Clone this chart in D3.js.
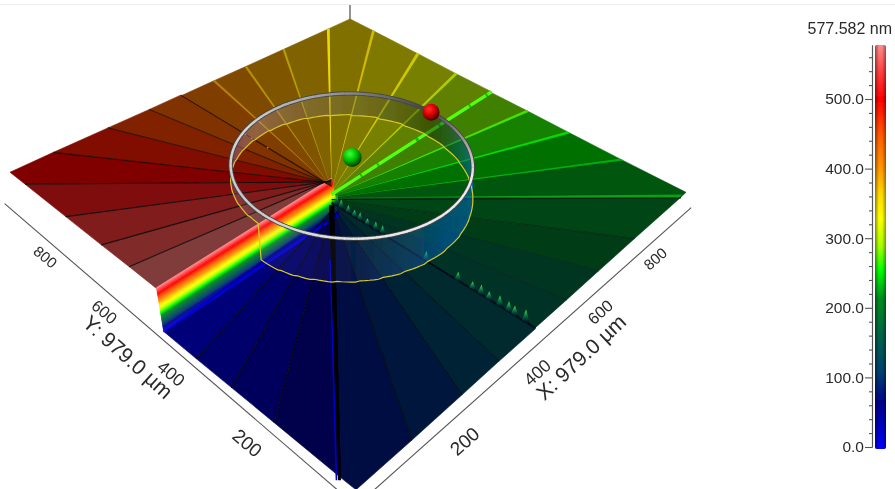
<!DOCTYPE html>
<html>
<head>
<meta charset="utf-8">
<style>
	html, body { margin: 0; padding: 0; background: #fff; overflow: hidden; }
	text { font-family: "Liberation Sans", Arial, sans-serif; fill: #2a2a2a; }
</style>
</head>
<body>
<div class="content"></div>
<script src="https://cdn.jsdelivr.net/npm/d3@7"></script>
<script>
const w = 895;
const h = 489;

// where each step line meets the edge of the plate, in um
const rayX = [0, 0, 0, 0, 0, 125, 249, 348, 452, 548, 653, 779, 958, 979, 979, 979, 979, 979, 979, 979, 900, 746, 624, 527, 431, 343, 234, 100, 0, 0, 0, 0, 0];
const rayY = [470, 379, 287, 182, 35, 0, 0, 0, 0, 0, 0, 0, 0, 156, 293, 407, 512, 620, 743, 895, 979, 979, 979, 979, 979, 979, 979, 979, 922, 777, 659, 572, 491];
// height of the step between ray i and ray i + 1, in nm
const stepHeights = [8, 24, 40, 59, 79, 99, 118, 136, 154, 172, 189, 208, 226, 244, 263, 281, 300, 322, 343, 360, 375, 391, 407, 424, 442, 460, 481, 501, 517, 532, 548, 566];
// rays where the surface really breaks
const breakRays = [8, 16, 24];

const spikeY = [485, 473, 453, 436, 421, 401, 379, 361, 250, 173, 139, 119, 101, 77, 57, 44, 20];
const spikeZ = [350, 310, 290, 270, 285, 260, 290, 300, 310, 290, 280, 310, 280, 320, 310, 300, 345];

const dotX = [435, 436, 437];
const dotY = [760, 740, 690];
const dotZ = [434, 434, 434];

const xTicks = [200, 400, 600, 800];
const yTicks = [200, 400, 600, 800];

const legendMajor = [0, 100, 200, 300, 400, 500];
const legendMinor = [20, 40, 60, 80, 120, 140, 160, 180, 220, 240, 260, 280, 320, 340, 360, 380, 420, 440, 460, 480, 520, 540, 560];
const legendMax = 577.582;

const colorValues = [0, 30, 65, 110, 170, 215, 255, 290, 330, 365, 400, 450, 500, 535, 577.582];
const colorNames = ['#0000ff', '#0000c8', '#00008c', '#004070', '#006a40', '#008c20', '#00ff00', '#a8ff00', '#ffff00', '#ffd800', '#ff9800', '#ff5800', '#ff0000', '#ff3838', '#ff8c8c'];

const plateSize = 979;
const spiralX = 441;
const spiralY = 500;
const rampWidth = 21;
const ringX = 490;
const ringY = 490;
const ringR = 247;
const ringZ = 770;

const colorScale = d3.scaleLinear().domain(colorValues).range(colorNames);
const shade = (z) => {
	const c = d3.rgb(colorScale(z));
	return d3.rgb(c.r * 0.5, c.g * 0.5, c.b * 0.5).formatRgb();
};

const xScale = d3.scaleLinear().domain([0, plateSize]).range([0, 1]);
const yScale = d3.scaleLinear().domain([0, plateSize]).range([0, 1]);
const zScale = d3.scaleLinear().domain([0, legendMax]).range([0, 45]);

// plate corners on screen: (0,0), (979,0), (979,979), (0,979)
const quad = [[356, 496], [686, 205], [350, 35], [10, 201]];
const homography = (() => {
	const [p0, p1, p2, p3] = quad;
	const dx1 = p1[0] - p2[0], dx2 = p3[0] - p2[0], sx = p0[0] - p1[0] + p2[0] - p3[0];
	const dy1 = p1[1] - p2[1], dy2 = p3[1] - p2[1], sy = p0[1] - p1[1] + p2[1] - p3[1];
	const den = dx1 * dy2 - dx2 * dy1;
	const g = (sx * dy2 - dx2 * sy) / den;
	const k = (dx1 * sy - sx * dy1) / den;
	return {
		a: p1[0] - p0[0] + g * p1[0], b: p3[0] - p0[0] + k * p3[0], c: p0[0],
		d: p1[1] - p0[1] + g * p1[1], e: p3[1] - p0[1] + k * p3[1], f: p0[1],
		g: g, k: k
	};
})();

const project = (x, y, z) => {
	const u = xScale(x);
	const v = yScale(y);
	const m = homography;
	const depth = m.g * u + m.k * v + 1;
	return [(m.a * u + m.b * v + m.c) / depth, (m.d * u + m.e * v + m.f) / depth - zScale(z) / depth];
};

const line = d3.line();
const closed = d3.line().curve(d3.curveLinearClosed);

const content = d3.select('.content');

const svg = content.append('svg')
	.attr('width', w)
	.attr('height', h)
	.style('display', 'block');

const defs = svg.append('defs');

defs.append('filter').attr('id', 'soft')
	.attr('x', '-5%').attr('y', '-5%').attr('width', '110%').attr('height', '110%')
	.append('feGaussianBlur').attr('stdDeviation', 0.45);

const spikeGrad = defs.append('linearGradient').attr('id', 'spike')
	.attr('x1', 0).attr('y1', 1).attr('x2', 0).attr('y2', 0);
spikeGrad.append('stop').attr('offset', '15%').attr('stop-color', '#00101c');
spikeGrad.append('stop').attr('offset', '55%').attr('stop-color', '#086048');
spikeGrad.append('stop').attr('offset', '100%').attr('stop-color', '#40f040');

svg.append('rect')
	.attr('x', 0).attr('y', 4).attr('width', w).attr('height', 1)
	.attr('fill', '#eeeeee');

const chart = svg.append('g').attr('filter', 'url(#soft)');

// vertical axis stub behind the back corner
chart.append('path')
	.attr('d', line([[350, 5], [350, 20]]))
	.attr('stroke', '#666')
	.attr('stroke-width', 1.4)
	.attr('fill', 'none');

// plate axes, just outside the plate edge
const axisGap = -12;
const axes = chart.append('g').attr('fill', 'none').attr('stroke', '#555').attr('stroke-width', 1.1);
axes.append('path').attr('d', line([project(axisGap, plateSize, 0), project(axisGap, axisGap, 0)]));
axes.append('path').attr('d', line([project(plateSize, axisGap, 0), project(axisGap, axisGap, 0)]));

// height on a ray is halfway between its two wedges, except at a real break
const rayZ = (i) => {
	if (i === 0) return stepHeights[0];
	if (i === stepHeights.length) return stepHeights[i - 1];
	return (stepHeights[i - 1] + stepHeights[i]) / 2;
};
const wedgeEdgeZ = (i, ray) => (breakRays.includes(ray) ? stepHeights[i] : rayZ(ray));

// wedges
const onBound = (a) => a === 0 || a === plateSize;
const wedges = stepHeights.map((z, i) => {
	const x1 = rayX[i], y1 = rayY[i], x2 = rayX[i + 1], y2 = rayY[i + 1];
	const z1 = wedgeEdgeZ(i, i), z2 = wedgeEdgeZ(i, i + 1);
	const hasCorner = x1 !== x2 && y1 !== y2;
	const corner = [onBound(x1) ? x1 : x2, onBound(y1) ? y1 : y2, z];
	const pts = [[spiralX, spiralY, z1], [x1, y1, z1]];
	if (hasCorner) pts.push(corner);
	pts.push([x2, y2, z2], [spiralX, spiralY, z2]);
	return { z: z, pts: pts, depth: (x1 + y1 + x2 + y2) / 2 };
});

chart.append('g').selectAll('path')
	.data(wedges.slice().sort((a, b) => b.depth - a.depth))
	.enter()
	.append('path')
	.attr('d', (d) => closed(d.pts.map((p) => project(p[0], p[1], p[2]))))
	.attr('fill', (d) => shade(d.z))
	.attr('stroke', (d) => shade(d.z))
	.attr('stroke-width', 0.6);

// walls at the real breaks
chart.append('g').selectAll('path')
	.data(breakRays)
	.enter()
	.append('path')
	.attr('d', (i) => closed([
		project(spiralX, spiralY, stepHeights[i - 1]),
		project(rayX[i], rayY[i], stepHeights[i - 1]),
		project(rayX[i], rayY[i], stepHeights[i]),
		project(spiralX, spiralY, stepHeights[i])
	]))
	.attr('fill', (i) => shade(stepHeights[i]));

// rainbow ramp from the top of the spiral back down to zero
const rampLevels = d3.range(0, legendMax, 6);
const rampEdge = (z) => rampWidth * (z / legendMax);
chart.append('g').selectAll('path')
	.data(rampLevels)
	.enter()
	.append('path')
	.attr('d', (z) => {
		const z2 = Math.min(z + 6, legendMax);
		return closed([
			project(0, rayY[32] - rampWidth + rampEdge(z), z),
			project(spiralX, spiralY - rampWidth + rampEdge(z), z),
			project(spiralX, spiralY - rampWidth + rampEdge(z2), z2),
			project(0, rayY[32] - rampWidth + rampEdge(z2), z2)
		]);
	})
	.attr('fill', (z) => colorScale(z + 3))
	.attr('stroke', (z) => colorScale(z + 3))
	.attr('stroke-width', 0.4);

// step lines
const litRays = [13, 14, 15, 17, 18, 19, 20, 21, 22, 23];
const darkRays = [1, 2, 3, 5, 6, 7, 9, 10, 11, 24, 25, 26, 27, 28, 29, 30, 31];
const rayOpacity = d3.scaleOrdinal()
	.domain(darkRays)
	.range([0.9, 0.9, 0.9, 0.8, 0.7, 0.6, 0.3, 0.3, 0.3, 0.7, 0.6, 0.6, 0.7, 0.85, 0.85, 0.85, 0.85]);

const rayEnd = (i, off) => {
	const x = rayX[i], y = rayY[i];
	return (x === 0 || x === plateSize) ? [x, y + off] : [x + off, y];
};
const rayWedge = (i, spread, z) => {
	const a = rayEnd(i, -spread), b = rayEnd(i, spread);
	return closed([project(spiralX, spiralY, z), project(a[0], a[1], z), project(b[0], b[1], z)]);
};

chart.append('g').selectAll('path')
	.data(darkRays)
	.enter()
	.append('path')
	.attr('d', (i) => line([project(spiralX, spiralY, rayZ(i)), project(rayX[i], rayY[i], rayZ(i))]))
	.attr('stroke', '#0a0a0a')
	.attr('stroke-width', 1.1)
	.attr('stroke-opacity', (i) => rayOpacity(i))
	.attr('fill', 'none');

chart.append('g').selectAll('path')
	.data(litRays)
	.enter()
	.append('path')
	.attr('d', (i) => rayWedge(i, i === 20 ? 5 : (i > 20 ? 3.5 : 4.5), rayZ(i)))
	.attr('fill', (i) => colorScale(rayZ(i) - (i === 20 ? 20 : (i > 20 ? 50 : 0))))
	.attr('fill-opacity', (i) => (i === 20 ? 0.85 : (i > 20 ? 0.4 : (i > 15 ? 0.6 : 0.75))));

// bright ridge towards the upper right, bright line with a dark foot to the right corner
const ridgeTop = 16;
chart.append('path')
	.attr('d', line([project(spiralX, spiralY, 295), project(rayX[ridgeTop], rayY[ridgeTop], 295)]))
	.attr('stroke', '#10c800')
	.attr('stroke-width', 3.4)
	.attr('fill', 'none');
chart.append('path')
	.attr('d', line([project(spiralX, spiralY, 295), project(rayX[ridgeTop], rayY[ridgeTop], 295)]))
	.attr('stroke', '#58ff10')
	.attr('stroke-width', 3.2)
	.attr('stroke-dasharray', '34 2 18 2 44 3 24 2')
	.attr('fill', 'none');

chart.append('path')
	.attr('d', line([project(spiralX, spiralY, 205), project(rayX[12], rayY[12], 205)]))
	.attr('stroke', '#02200a')
	.attr('stroke-width', 1.2)
	.attr('fill', 'none');
chart.append('path')
	.attr('d', rayWedge(12, 7, 240))
	.attr('fill', '#10b020')
	.attr('fill-opacity', 0.8);

// dark ridge towards the front right, with spikes on it
chart.append('path')
	.attr('d', line([project(spiralX, spiralY, 146), project(rayX[8], rayY[8], 146)]))
	.attr('stroke', '#00101a')
	.attr('stroke-width', 2)
	.attr('fill', 'none');

const ridgeXAt = d3.scaleLinear().domain([spiralY, rayY[8]]).range([spiralX, rayX[8]]);
chart.append('g').selectAll('path')
	.data(spikeY)
	.enter()
	.append('path')
	.attr('d', (y, i) => closed([
		project(ridgeXAt(y), y + 9, 146),
		project(ridgeXAt(y), y, spikeZ[i]),
		project(ridgeXAt(y), y - 9, 146)
	]))
	.attr('fill', 'url(#spike)');

// dots along the step behind the ring
chart.append('g').selectAll('circle')
	.data(dotX)
	.enter()
	.append('circle')
	.attr('cx', (d, i) => project(d, dotY[i], dotZ[i])[0])
	.attr('cy', (d, i) => project(d, dotY[i], dotZ[i])[1])
	.attr('r', 0.9)
	.attr('fill', '#e07000');

// black step to the front corner with its blue side
const frontRay = 4;
const blueStart = 0.2;
const frontEnd = project(rayX[frontRay], rayY[frontRay], 20);
const frontTop = project(spiralX, spiralY, 110);
chart.append('path')
	.attr('d', line([d3.interpolate(frontTop, frontEnd)(blueStart), frontEnd]))
	.attr('transform', 'translate(-3,0)')
	.attr('stroke', '#0000c8')
	.attr('stroke-width', 1.6)
	.attr('fill', 'none');
chart.append('path')
	.attr('d', closed([
		[frontTop[0] - 2.6, frontTop[1]],
		[frontTop[0] + 2.6, frontTop[1]],
		[frontEnd[0] + 1.5, frontEnd[1]],
		[frontEnd[0] - 1.5, frontEnd[1]]
	]))
	.attr('fill', '#000');

// measuring ring and its profile on the surface
const rayAngle = (i) => Math.atan2(rayY[i] - spiralY, rayX[i] - spiralX);
const startAngle = rayAngle(32);
const turn = (a) => ((a - startAngle) % (2 * Math.PI) + 2 * Math.PI) % (2 * Math.PI);
const rayTurns = rayX.map((d, i) => (i === 32 ? 2 * Math.PI : turn(rayAngle(i))));
const heightAt = (x, y) => {
	const t = turn(Math.atan2(y - spiralY, x - spiralX));
	const i = Math.max(0, Math.min(stepHeights.length - 1, d3.bisectRight(rayTurns, t) - 1));
	return stepHeights[i];
};

const ringAngles = d3.range(0, 360, 2);
const toRad = (a) => a * Math.PI / 180;
const ringPoint = (a, z) => project(ringX + ringR * Math.cos(toRad(a)), ringY + ringR * Math.sin(toRad(a)), z);
const ringSurface = (a) => {
	const x = ringX + ringR * Math.cos(toRad(a));
	const y = ringY + ringR * Math.sin(toRad(a));
	return project(x, y, heightAt(x, y));
};

// veil hanging between ring and profile
const veilColor = d3.scaleLinear()
	.domain([0, 45, 100, 135, 180, 225, 270, 315, 360])
	.range(['#102000', '#606060', '#b0a8b0', '#9060b0', '#c0c0c0', '#5080d0', '#0070f0', '#0070e0', '#102000']);
const veilOpacity = d3.scaleLinear()
	.domain([0, 45, 100, 135, 180, 225, 270, 315, 360])
	.range([0.45, 0.3, 0.35, 0.4, 0.06, 0.08, 0.4, 0.5, 0.45]);

chart.append('g').attr('shape-rendering', 'crispEdges').selectAll('path')
	.data(ringAngles)
	.enter()
	.append('path')
	.attr('d', (a) => closed([ringPoint(a, ringZ), ringPoint(a + 2, ringZ), ringSurface(a + 2), ringSurface(a)]))
	.attr('fill', (a) => veilColor(a + 1))
	.attr('fill-opacity', (a) => veilOpacity(a + 1));

chart.append('path')
	.attr('d', closed(ringAngles.map(ringSurface)))
	.attr('fill', 'none')
	.attr('stroke', '#d8c828')
	.attr('stroke-width', 1.2);

const ringLight = d3.scaleLinear()
	.domain([0, 60, 110, 170, 230, 300, 340, 360])
	.range(['#404040', '#a0a0a0', '#d8d8d8', '#c8c8c8', '#e8e8e8', '#f0f0f0', '#808080', '#404040']);

const ringSteps = d3.range(1, 359, 2);
chart.append('path')
	.attr('d', line(ringSteps.map((a) => ringPoint(a, ringZ))))
	.attr('fill', 'none')
	.attr('stroke', '#454545')
	.attr('stroke-width', 4.2);
chart.append('g').selectAll('path')
	.data(ringSteps)
	.enter()
	.append('path')
	.attr('d', (a) => line([ringPoint(a, ringZ), ringPoint(a + 2.3, ringZ)]))
	.attr('stroke', (a) => ringLight(a))
	.attr('stroke-width', 2.4)
	.attr('fill', 'none');

// spheres
const sphere = (id, light, mid, dark) => {
	const g = defs.append('radialGradient').attr('id', id)
		.attr('cx', '38%').attr('cy', '32%').attr('r', '72%');
	g.append('stop').attr('offset', '0%').attr('stop-color', light);
	g.append('stop').attr('offset', '45%').attr('stop-color', mid);
	g.append('stop').attr('offset', '100%').attr('stop-color', dark);
};
sphere('red', '#ff3030', '#e00000', '#3a0000');
sphere('green', '#40ff40', '#00c800', '#003000');

const redAt = ringPoint(0, ringZ);
chart.append('circle').attr('cx', redAt[0]).attr('cy', redAt[1]).attr('r', 8.5).attr('fill', 'url(#red)');
const greenAt = project(ringX, ringY, 800);
chart.append('circle').attr('cx', greenAt[0]).attr('cy', greenAt[1]).attr('r', 9.5).attr('fill', 'url(#green)');

// plate tick labels, they get smaller towards the back
const labelGap = d3.scaleLinear().domain([200, 800]).range([25, 15]);
const labelSize = d3.scaleLinear().domain([200, 800]).range([19, 15]);
const yLabelAngle = 40;
const xLabelAngle = -42;

const labels = svg.append('g').attr('filter', 'url(#soft)').attr('text-anchor', 'middle');

labels.selectAll('.ytick')
	.data(yTicks)
	.enter()
	.append('text')
	.attr('class', 'ytick')
	.attr('font-size', (d) => labelSize(d))
	.attr('transform', (d) => {
		const p = project(axisGap, d, 0);
		const g = labelGap(d);
		return 'translate(' + (p[0] - g * 0.55) + ',' + (p[1] + g * 0.75) + ') rotate(' + yLabelAngle + ')';
	})
	.attr('dy', '0.35em')
	.text((d) => d);

labels.selectAll('.xtick')
	.data(xTicks)
	.enter()
	.append('text')
	.attr('class', 'xtick')
	.attr('font-size', (d) => labelSize(d))
	.attr('transform', (d) => {
		const p = project(d, axisGap, 0);
		const g = labelGap(d);
		return 'translate(' + (p[0] + g * 0.65) + ',' + (p[1] + g * 0.7) + ') rotate(' + xLabelAngle + ')';
	})
	.attr('dy', '0.35em')
	.text((d) => d);

labels.append('text')
	.attr('font-size', 21)
	.attr('transform', 'translate(128,357) rotate(' + (yLabelAngle + 2) + ')')
	.attr('dy', '0.35em')
	.text('Y: 979.0 µm');

labels.append('text')
	.attr('font-size', 21)
	.attr('transform', 'translate(581,357) rotate(' + (xLabelAngle - 1) + ')')
	.attr('dy', '0.35em')
	.text('X: 979.0 µm');

// legend
const legendScale = d3.scaleLinear().domain([0, legendMax]).range([447, 45]);
const barX = 875;
const barW = 11;

const barFill = defs.append('linearGradient').attr('id', 'bar')
	.attr('x1', 0).attr('y1', 1).attr('x2', 0).attr('y2', 0);
barFill.selectAll('stop')
	.data(colorValues)
	.enter()
	.append('stop')
	.attr('offset', (d) => (d / legendMax * 100) + '%')
	.attr('stop-color', (d) => colorScale(d));

const barTube = defs.append('linearGradient').attr('id', 'tube');
barTube.append('stop').attr('offset', '0%').attr('stop-color', '#000').attr('stop-opacity', 0.45);
barTube.append('stop').attr('offset', '35%').attr('stop-color', '#000').attr('stop-opacity', 0);
barTube.append('stop').attr('offset', '65%').attr('stop-color', '#000').attr('stop-opacity', 0);
barTube.append('stop').attr('offset', '100%').attr('stop-color', '#000').attr('stop-opacity', 0.4);

const legend = svg.append('g').attr('id', 'legend').attr('filter', 'url(#soft)');

legend.append('rect')
	.attr('x', barX).attr('y', legendScale(legendMax)).attr('width', barW)
	.attr('height', legendScale(0) - legendScale(legendMax) + 2)
	.attr('rx', 2)
	.attr('fill', 'url(#bar)');
legend.append('rect')
	.attr('x', barX).attr('y', legendScale(legendMax)).attr('width', barW)
	.attr('height', legendScale(0) - legendScale(legendMax) + 2)
	.attr('rx', 2)
	.attr('fill', 'url(#tube)');

const minorAxis = d3.axisLeft(legendScale)
	.tickValues(legendMinor)
	.tickSize(3)
	.tickSizeOuter(0)
	.tickFormat('');
const majorAxis = d3.axisLeft(legendScale)
	.tickValues(legendMajor)
	.tickSize(7)
	.tickSizeOuter(0)
	.tickPadding(1)
	.tickFormat(d3.format('.1f'));

legend.append('g')
	.attr('transform', 'translate(872,0)')
	.call(minorAxis)
	.call((g) => g.selectAll('path, line').attr('stroke', '#555').attr('stroke-width', 1.1));
legend.append('g')
	.attr('transform', 'translate(872,0)')
	.call(majorAxis)
	.call((g) => g.selectAll('path, line').attr('stroke', '#555').attr('stroke-width', 1.1))
	.call((g) => g.selectAll('text').attr('font-size', 15.5).attr('font-family', null).style('fill', '#2a2a2a'));

legend.append('text')
	.attr('x', 892)
	.attr('y', 34)
	.attr('text-anchor', 'end')
	.attr('font-size', 16)
	.text('577.582 nm');
</script>
</body>
</html>
